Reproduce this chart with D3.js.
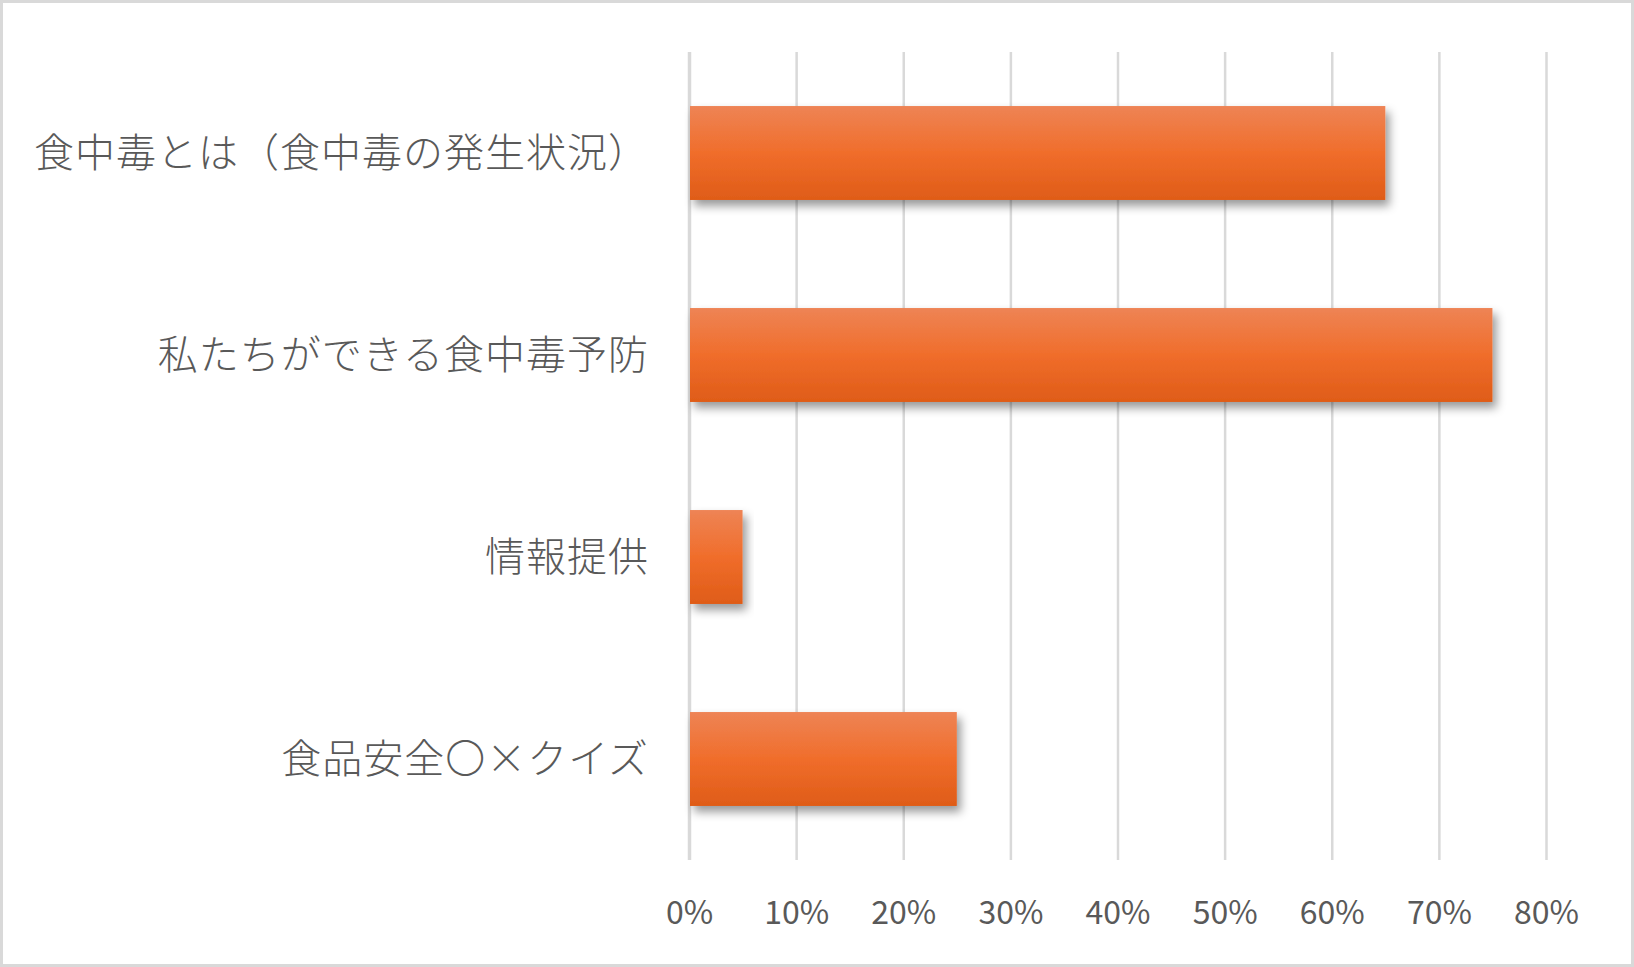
<!DOCTYPE html>
<html>
<head>
<meta charset="utf-8">
<script src="https://cdn.jsdelivr.net/npm/d3@7"></script>
<style>
  body { margin: 0; background: #fff; }
  svg { display: block; }
  .tick text { fill: #595959; }
</style>
</head>
<body>
<div id="chart"></div>
<script>
// categories, top to bottom
var categories = [
    '食中毒とは（食中毒の発生状況）',
    '私たちができる食中毒予防',
    '情報提供',
    '食品安全〇×クイズ'
];
var values = [0.65, 0.75, 0.05, 0.25];
var tickValues = [0, 0.1, 0.2, 0.3, 0.4, 0.5, 0.6, 0.7, 0.8];

var width = 1634,
    height = 967,
    plotLeft = 689,
    plotRight = 1546,
    plotTop = 52,
    plotBottom = 860;

var svg = d3.select('#chart').append('svg')
    .attr('width', width)
    .attr('height', height);

//outer frame
svg.append('rect')
    .attr('x', 1.5).attr('y', 1.5)
    .attr('width', width - 3).attr('height', height - 3)
    .attr('fill', '#fff')
    .attr('stroke', '#d9d9d9')
    .attr('stroke-width', 3);

var defs = svg.append('defs');
var grad = defs.append('linearGradient')
    .attr('id', 'barGrad')
    .attr('x1', 0).attr('y1', 0).attr('x2', 0).attr('y2', 1);
grad.append('stop').attr('offset', '0%').attr('stop-color', '#ee8455');
grad.append('stop').attr('offset', '50%').attr('stop-color', '#f06d2b');
grad.append('stop').attr('offset', '100%').attr('stop-color', '#df5c18');

var shadow = defs.append('filter')
    .attr('id', 'barShadow')
    .attr('x', '-10%').attr('y', '-20%')
    .attr('width', '130%').attr('height', '160%');
shadow.append('feDropShadow')
    .attr('dx', 4).attr('dy', 6)
    .attr('stdDeviation', 5)
    .attr('flood-color', '#000')
    .attr('flood-opacity', 0.4);

var x = d3.scaleLinear()
    .domain([0, 0.8])
    .range([plotLeft, plotRight]);

var y = d3.scaleBand()
    .domain(categories)
    .range([plotTop, plotBottom])
    .paddingInner(0.535)
    .paddingOuter(0.2675);

//vertical gridlines
var grid = svg.append('g')
    .attr('transform', 'translate(0,' + plotBottom + ')')
    .call(d3.axisBottom(x)
        .tickValues(tickValues)
        .tickSize(-(plotBottom - plotTop))
        .tickFormat(''));
grid.select('.domain').remove();
grid.selectAll('.tick line')
    .attr('stroke', '#d9d9d9')
    .attr('stroke-width', function (d) { return d === 0 ? 3.5 : 2.5; });

//bars
svg.append('g').selectAll('rect')
    .data(values)
    .enter()
    .append('rect')
    .attr('x', x(0) + 1)
    .attr('y', function (d, i) { return y(categories[i]); })
    .attr('width', function (d) { return x(d) - x(0) - 1; })
    .attr('height', y.bandwidth())
    .attr('fill', 'url(#barGrad)')
    .attr('filter', 'url(#barShadow)');

//x axis labels
var axisX = svg.append('g')
    .attr('transform', 'translate(0,' + plotBottom + ')')
    .call(d3.axisBottom(x)
        .tickValues(tickValues)
        .tickSize(0)
        .tickFormat(d3.format('.0%')));
axisX.select('.domain').remove();
axisX.selectAll('text')
    .attr('y', 53)
    .attr('dy', '0.35em')
    .style('font-family', '"Noto Sans CJK JP", "Noto Sans", sans-serif')
    .style('font-size', '32px');

//category labels
var axisY = svg.append('g')
    .attr('transform', 'translate(' + plotLeft + ',0)')
    .call(d3.axisLeft(y).tickSize(0).tickPadding(40));
axisY.select('.domain').remove();
axisY.selectAll('text')
    .attr('dy', '0.35em')
    .style('font-family', '"Noto Sans CJK JP", sans-serif')
    .style('font-weight', 300)
    .style('font-size', '40px')
    .style('letter-spacing', '1px');
</script>
</body>
</html>
